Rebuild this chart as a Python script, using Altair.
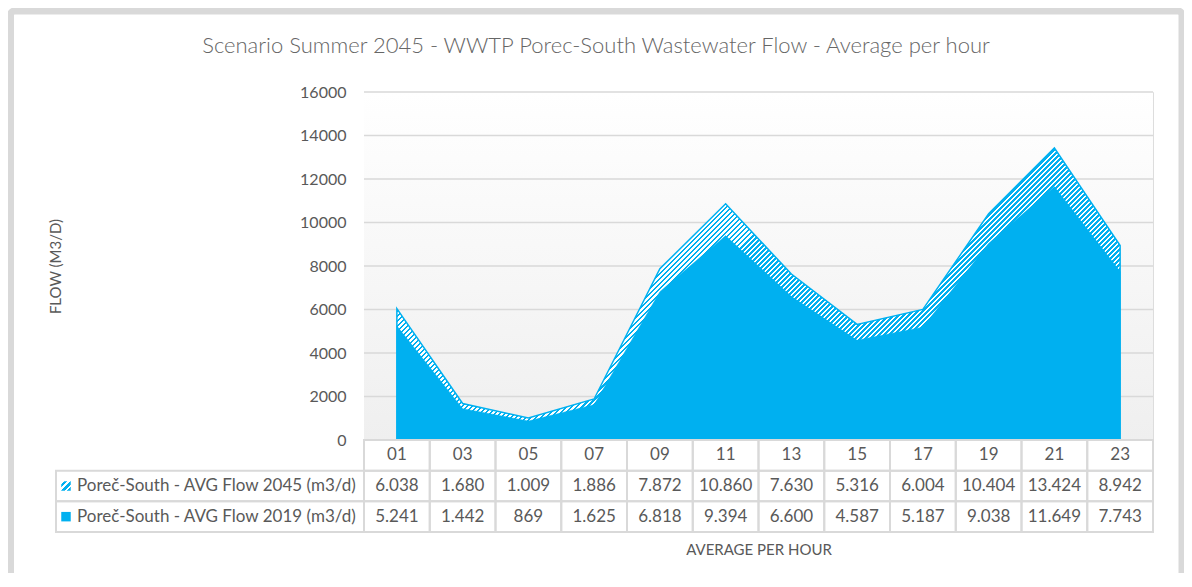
import altair as alt
import pandas as pd

# ---------------- data ----------------
hours = ["01", "03", "05", "07", "09", "11", "13", "15", "17", "19", "21", "23"]
flow_2045 = [6038, 1680, 1009, 1886, 7872, 10860, 7630, 5316, 6004, 10404, 13424, 8942]
flow_2019 = [5241, 1442, 869, 1625, 6818, 9394, 6600, 4587, 5187, 9038, 11649, 7743]
series_labels = ["Poreč-South - AVG Flow 2045 (m3/d)", "Poreč-South - AVG Flow 2019 (m3/d)"]
y_ticks = [0, 2000, 4000, 6000, 8000, 10000, 12000, 14000, 16000]
title_text = "Scenario Summer 2045 - WWTP Porec-South Wastewater Flow - Average per hour"

# ---------------- layout / style ----------------
PLOT_W, PLOT_H = 789, 348
YMAX = 16000
BLUE = "#00B0F0"
GRID = "#d9d9d9"
TXT = "#595959"
FONT = "Lato"


def fmt(v):
    return f"{v:,}".replace(",", ".")


def stripes(n, p, q, white_frac):
    stops = []
    for k in range(n):
        a = round(k / n, 6)
        b = round((k + white_frac) / n, 6)
        c = round((k + 1) / n, 6)
        stops += [
            {"offset": a, "color": "#ffffff"},
            {"offset": b, "color": "#ffffff"},
            {"offset": b, "color": BLUE},
            {"offset": c, "color": BLUE},
        ]
    return {"gradient": "linear", "x1": 0, "y1": 0, "x2": p, "y2": q, "stops": stops}


# hatch gradient geometry for the 2045 area (45 degree "/" stripes)
W = PLOT_W * (len(hours) - 1) / len(hours)
H = PLOT_H * max(flow_2045) / YMAX
r = H / W
p = (1 + r) / (1 + r * r)
hatch_area = stripes(int(round((W + H) / 5.0)), p, p * r, 0.5)
hatch_symbol = stripes(3, 1, 1, 0.4)

df = pd.DataFrame({"hour": hours, "f2045": flow_2045, "f2019": flow_2019})

rows = []
for h, a, b in zip(hours, flow_2045, flow_2019):
    rows.append({"hour": h, "row": "h", "txt": h})
    rows.append({"hour": h, "row": "a", "txt": fmt(a)})
    rows.append({"hour": h, "row": "b", "txt": fmt(b)})
table_df = pd.DataFrame(rows)
label_df = pd.DataFrame({"row": ["a", "b"], "label": series_labels})

x_scale = alt.Scale(type="band", domain=hours, paddingInner=0, paddingOuter=0)
x_axis = alt.Axis(
    title="AVERAGE PER HOUR", labels=False, ticks=False, domain=False, grid=False,
    titleY=109, titleBaseline="middle", titleFontSize=15, titleFontWeight="normal",
    titleColor=TXT, titleFont=FONT,
)


def X(band=None):
    if band is None:
        return alt.X("hour:N", scale=x_scale, axis=x_axis)
    return alt.X("hour:N", scale=x_scale, axis=x_axis, bandPosition=band)


y_scale = alt.Scale(domain=[0, YMAX], nice=False, zero=True)
y_axis = alt.Axis(
    title="FLOW (M3/D)", values=y_ticks, format="d", grid=False, domain=False, ticks=False,
    labelPadding=18, labelFontSize=16, labelColor=TXT, labelFont=FONT,
    titleX=-308.5, titleY=PLOT_H / 2, titleAngle=270, titleAlign="center",
    titleBaseline="middle", titleFontSize=15, titleFontWeight="normal",
    titleColor=TXT, titleFont=FONT,
)

one = alt.Data(values=[{"k": 1}])

# outer frame
frame = alt.Chart(one).mark_rect(
    filled=False, stroke="#d9d9d9", strokeWidth=7, cornerRadius=4
).encode(x=alt.value(-353.5), x2=alt.value(818), y=alt.value(-81), y2=alt.value(520))

title = alt.Chart(alt.Data(values=[{"t": title_text}])).mark_text(
    align="center", baseline="middle", fontSize=22, font=FONT, fontWeight=300, color="#666666"
).encode(text="t:N", x=alt.value(232), y=alt.value(-46))

# plot background gradient
bg = alt.Chart(one).mark_rect(
    fill={"gradient": "linear", "x1": 0, "y1": 0, "x2": 0, "y2": 1,
          "stops": [{"offset": 0, "color": "#ffffff"}, {"offset": 1, "color": "#efefef"}]}
).encode(x=alt.value(0), x2=alt.value("width"), y=alt.value(0), y2=alt.value("height"))

grid = alt.Chart(pd.DataFrame({"v": y_ticks[1:]})).mark_rule(
    color=GRID, strokeWidth=1.5
).encode(y=alt.Y("v:Q", scale=y_scale, axis=y_axis))

area45 = alt.Chart(df).mark_area(
    fill=hatch_area, stroke=BLUE, strokeWidth=1.5
).encode(x=X(0.5), y=alt.Y("f2045:Q", scale=y_scale, axis=y_axis))

area19 = alt.Chart(df).mark_area(
    fill=BLUE, stroke=BLUE, strokeWidth=0.5
).encode(x=X(0.5), y=alt.Y("f2019:Q", scale=y_scale, axis=y_axis))

plot = alt.layer(bg, grid, area45, area19)

# data table below the plot
row_scale = alt.Scale(type="band", domain=["h", "a", "b"], range=[PLOT_H, PLOT_H + 92],
                      paddingInner=0, paddingOuter=0)


def RY(band=None):
    if band is None:
        return alt.Y("row:N", scale=row_scale, axis=None)
    return alt.Y("row:N", scale=row_scale, axis=None, bandPosition=band)


cells = alt.Chart(table_df).mark_rect(
    filled=False, stroke=GRID, strokeWidth=2
).encode(x=X(), y=RY())

cell_text = alt.Chart(table_df).mark_text(
    fontSize=17, font=FONT, color=TXT, baseline="middle", align="center"
).encode(x=X(0.5), y=RY(0.5), text="txt:N")

label_cells = alt.Chart(label_df).mark_rect(
    filled=False, stroke=GRID, strokeWidth=2
).encode(x=alt.value(-308), x2=alt.value(0), y=RY())

sym45 = alt.Chart(label_df[label_df.row == "a"]).mark_square(
    size=90, fill=hatch_symbol, opacity=1
).encode(x=alt.value(-298), y=RY(0.5))

sym19 = alt.Chart(label_df[label_df.row == "b"]).mark_square(
    size=90, fill=BLUE, opacity=1
).encode(x=alt.value(-298), y=RY(0.5))

label_text = alt.Chart(label_df).mark_text(
    fontSize=17, font=FONT, color=TXT, baseline="middle", align="left"
).encode(x=alt.value(-287), y=RY(0.5), text="label:N")

table = alt.layer(cells, cell_text, label_cells, sym45, sym19, label_text)

chart = alt.layer(frame, title, plot, table).resolve_scale(y="independent").properties(
    width=PLOT_W, height=PLOT_H,
    autosize=alt.AutoSizeParams(type="none"),
    padding={"left": 356, "top": 84, "right": 31, "bottom": 133},
).configure_view(stroke=None).configure(font=FONT)

chart.save("out.html", embed_options={"renderer": "svg", "actions": False})
